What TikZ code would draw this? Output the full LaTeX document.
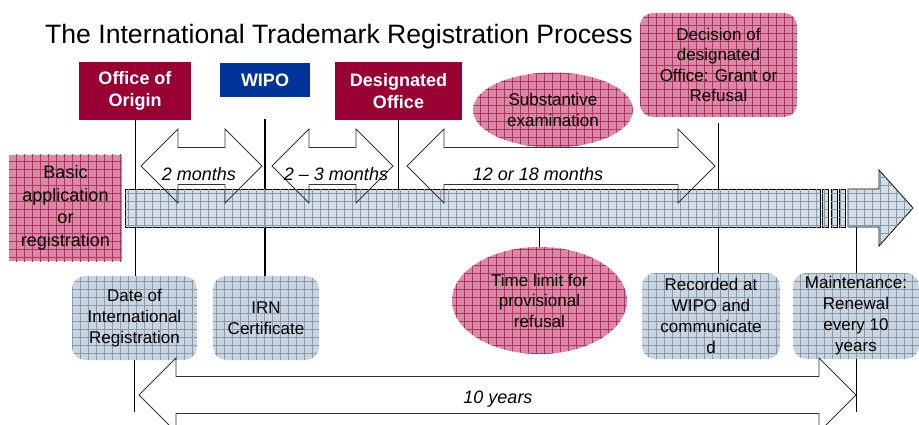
\documentclass[tikz,border=0pt]{standalone}
\usepackage{fontspec}
\setmainfont{Liberation Sans}
\usetikzlibrary{shapes.geometric,patterns.meta}

\definecolor{wipored}{RGB}{153,0,51}
\definecolor{wipoblue}{RGB}{0,51,153}
\definecolor{rosefill}{RGB}{216,138,166}
\definecolor{rosegrid}{RGB}{176,52,100}
\definecolor{steelfill}{RGB}{202,213,223}
\definecolor{steelgrid}{RGB}{135,154,172}

\tikzset{
    gridfill/.style={postaction={pattern={Hatch[angle=0,distance=8pt,line width=0.45pt]}, pattern color=#1}},
    office/.style={fill=wipored, text=white, font=\bfseries\fontsize{18}{21.5}\selectfont, align=center, inner sep=0pt},
    rosebox/.style={fill=rosefill, gridfill=rosegrid, align=center, inner sep=0pt, font=\fontsize{17}{20.5}\selectfont},
    steelbox/.style={fill=steelfill, gridfill=steelgrid, align=center, inner sep=0pt, rounded corners=13pt, font=\fontsize{17}{21}\selectfont},
    oval/.style={rosebox, ellipse},
    barpart/.style={draw=black, line width=0.8pt, fill=steelfill, fill opacity=0.8, gridfill=steelgrid},
    spanline/.style={draw=black!80, line width=0.9pt, line join=miter},
    period/.style={font=\itshape\fontsize{18}{21}\selectfont, inner sep=0pt, anchor=base},
    tick/.style={draw=black, line width=0.9pt}
}

% double-headed time span: left tip, right tip, centre line
\newcommand\spanarrow[3]{%
    \draw[spanline] (#1,#3) -- (#1+37,#3-37) -- (#1+37,#3-18.5) -- (#2-37,#3-18.5)
        -- (#2-37,#3-37) -- (#2,#3) -- (#2-37,#3+37) -- (#2-37,#3+18.5)
        -- (#1+37,#3+18.5) -- (#1+37,#3+37) -- cycle;}

\begin{document}
\begin{tikzpicture}[x=1pt, y=-1pt]
    \useasboundingbox (0,0) rectangle (919,425);

    % Title
    \node[anchor=base west, inner sep=0pt, font=\fontsize{26.6}{31}\selectfont] (title) at (45,44)
        {The International Trademark Registration Process};

    % Offices above the time line
    \node[office, minimum width=112pt, minimum height=58pt] (origin) at (135,91) {Office of\\Origin};
    \node[office, fill=wipoblue, minimum width=90pt, minimum height=34pt] (wipo) at (265,80) {WIPO};
    \node[office, minimum width=127pt, minimum height=58pt] (desig) at (398.5,91) {Designated\\Office};
    \node[oval, minimum width=160pt, minimum height=75pt] (subst) at (553,110) {Substantive\\examination};
    \node[rosebox, rounded corners=13pt, minimum width=157pt, minimum height=104pt] (decision) at (718.5,65)
        {Decision of\\designated\\Office: Grant or\\Refusal};
    \node[rosebox, font=\fontsize{18}{22.5}\selectfont, minimum width=113pt, minimum height=106pt] (basic) at (65.5,208)
        {Basic\\application\\or\\registration};

    % Steps below the time line
    \node[steelbox, minimum width=125pt, minimum height=84pt] (date) at (134.5,318) {Date of\\International\\Registration};
    \node[steelbox, minimum width=106pt, minimum height=84pt] (irn) at (266,318) {IRN\\Certificate};
    \node[oval, minimum width=175pt, minimum height=107pt] (limit) at (539.5,300.5) {Time limit for\\provisional\\refusal};
    \node[steelbox, minimum width=138pt, minimum height=86pt] (recorded) at (711,316) {Recorded at\\WIPO and\\communicate\\d};
    \node[steelbox, minimum width=126pt, minimum height=86pt] (maint) at (856,316) {Maintenance:\\Renewal\\every 10\\years};

    \coordinate (barline) at (0,208);
    \coordinate (lowend) at (0,412);

    % Ticks
    \draw[tick] (origin.south) -- (origin.south |- date.north);
    \draw[tick, line width=2pt] ([yshift=-22pt]wipo.south) -- (wipo.south |- irn.north);
    \draw[tick] (desig.south) -- (desig.south |- barline);
    \draw[tick] ([yshift=-6pt]decision.south) -- (decision.south |- recorded.north);
    \draw[tick] (limit.north) -- (limit.north |- barline);
    \draw[tick] (maint.north) -- (maint.north |- barline);
    \draw[tick] (date.south) -- (date.south |- lowend);
    \draw[tick] (maint.south) -- (maint.south |- lowend);

    % Time line
    \draw[barpart] (125,189) rectangle (820,227);
    \foreach \a/\b in {822/828, 831/837, 839/845}
        \draw[barpart] (\a,189) rectangle (\b,227);
    \draw[barpart] (848,189) -- (879,189) -- (879,170) -- (913,208) -- (879,246) -- (879,227) -- (848,227) -- cycle;

    % Time spans
    \spanarrow{141}{262}{166}
    \spanarrow{272}{393}{166}
    \spanarrow{407}{715}{166}
    \spanarrow{139}{856}{395}

    \node[period] (twomonths) at (199,181) {2 months};
    \node[period] (threemonths) at (336,181) {2 -- 3 months};
    \node[period] (exammonths) at (538,181) {12 or 18 months};
    \node[period] (tenyears) at (498,403) {10 years};
\end{tikzpicture}
\end{document}
